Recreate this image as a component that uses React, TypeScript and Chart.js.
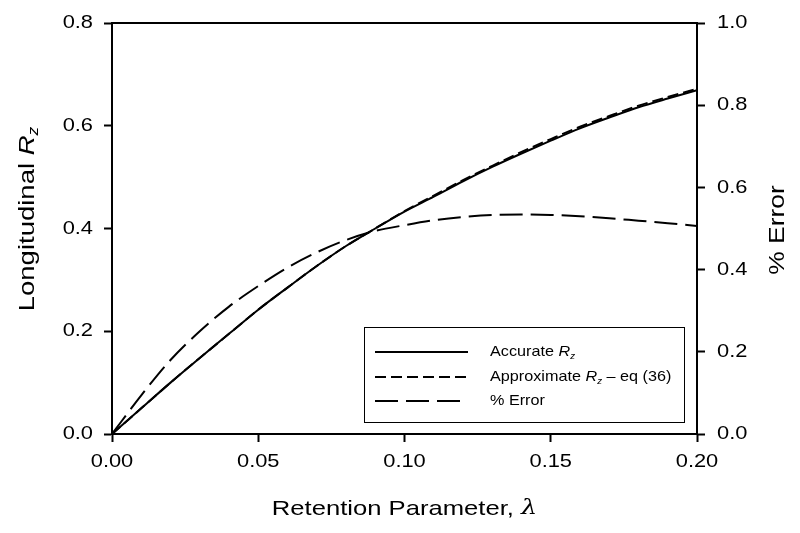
import React, { useEffect, useRef } from "react";
import { Chart, registerables } from "chart.js";

Chart.register(...registerables);

const lambdaValues = [0, 0.01, 0.02, 0.03, 0.04, 0.05, 0.06, 0.07, 0.08, 0.09, 0.1, 0.11, 0.12, 0.13, 0.14, 0.15, 0.16, 0.17, 0.18, 0.19, 0.2];
const accurateRz = [0, 0.05, 0.1, 0.148, 0.195, 0.242, 0.285, 0.327, 0.366, 0.4, 0.433, 0.462, 0.492, 0.52, 0.546, 0.571, 0.595, 0.616, 0.636, 0.653, 0.669];
const approximateRz = [0, 0.05, 0.1, 0.148, 0.195, 0.242, 0.285, 0.327, 0.366, 0.4, 0.434, 0.464, 0.494, 0.522, 0.549, 0.574, 0.598, 0.619, 0.639, 0.656, 0.672];
const percentError = [0, 0.094, 0.18, 0.25, 0.31, 0.36, 0.405, 0.442, 0.472, 0.494, 0.508, 0.52, 0.528, 0.533, 0.534, 0.533, 0.53, 0.525, 0.519, 0.513, 0.506];

const xTicks = [0, 0.05, 0.1, 0.15, 0.2];
const leftTicks = [0, 0.2, 0.4, 0.6, 0.8];
const rightTicks = [0, 0.2, 0.4, 0.6, 0.8, 1.0];

type Part = { t: string; italic?: boolean; sub?: boolean; serif?: boolean };

const legendLabels: Part[][] = [
  [{ t: "Accurate " }, { t: "R", italic: true }, { t: "z", italic: true, sub: true }],
  [{ t: "Approximate " }, { t: "R", italic: true }, { t: "z", italic: true, sub: true }, { t: " \u2013 eq (36)" }],
  [{ t: "% Error" }],
];
const xTitle: Part[] = [{ t: "Retention Parameter, " }, { t: "\u03bb", italic: true, serif: true }];
const yLeftTitle: Part[] = [{ t: "Longitudinal " }, { t: "R", italic: true }, { t: "z", italic: true, sub: true }];
const yRightTitle: Part[] = [{ t: "% Error" }];

const FONT = '"Liberation Sans", Arial, Helvetica, sans-serif';

function fontFor(p: Part, size: number) {
  const s = p.sub ? Math.round(size * 0.62) : size;
  const fam = p.serif ? '"DejaVu Serif", "Liberation Serif", serif' : FONT;
  return `${p.italic ? "italic " : ""}${s}px ${fam}`;
}

function richWidth(ctx: CanvasRenderingContext2D, parts: Part[], size: number) {
  let w = 0;
  for (const p of parts) {
    ctx.font = fontFor(p, size);
    w += ctx.measureText(p.t).width;
  }
  return w;
}

function drawRich(
  ctx: CanvasRenderingContext2D,
  parts: Part[],
  x: number,
  y: number,
  size: number,
  align: "left" | "center" | "right",
  stretch = 1
) {
  ctx.save();
  ctx.translate(x, y);
  ctx.scale(stretch, 1);
  const total = richWidth(ctx, parts, size);
  let cx = align === "center" ? -total / 2 : align === "right" ? -total : 0;
  ctx.textAlign = "left";
  ctx.textBaseline = "middle";
  ctx.fillStyle = "#000";
  for (const p of parts) {
    ctx.font = fontFor(p, size);
    ctx.fillText(p.t, cx, p.sub ? size * 0.3 : 0);
    cx += ctx.measureText(p.t).width;
  }
  ctx.restore();
}

const TICK_SIZE = 19;
const TICK_STRETCH = 1.15;

const decorPlugin = {
  id: "decor",
  afterDraw(chart: any) {
    const ctx: CanvasRenderingContext2D = chart.ctx;
    const a = chart.chartArea;
    const sx = chart.scales.x;
    const sy = chart.scales.y;
    const sy1 = chart.scales.y1;
    ctx.save();
    // frame
    ctx.strokeStyle = "#000";
    ctx.lineWidth = 2;
    ctx.strokeRect(a.left, a.top, a.right - a.left, a.bottom - a.top);

    // tick labels
    xTicks.forEach((v) => drawRich(ctx, [{ t: v.toFixed(2) }], sx.getPixelForValue(v), 462, TICK_SIZE, "center", TICK_STRETCH));
    leftTicks.forEach((v) => drawRich(ctx, [{ t: v.toFixed(1) }], 93, sy.getPixelForValue(v), TICK_SIZE, "right", TICK_STRETCH));
    rightTicks.forEach((v) => drawRich(ctx, [{ t: v.toFixed(1) }], 717, sy1.getPixelForValue(v), TICK_SIZE, "left", TICK_STRETCH));

    // axis titles
    drawRich(ctx, xTitle, (a.left + a.right) / 2, 509, 21, "center", 1.22);
    ctx.save();
    ctx.translate(28, 219);
    ctx.rotate(-Math.PI / 2);
    drawRich(ctx, yLeftTitle, 0, 0, 22, "center", 1.25);
    ctx.restore();
    ctx.save();
    ctx.translate(778, 230);
    ctx.rotate(-Math.PI / 2);
    drawRich(ctx, yRightTitle, 0, 0, 22, "center", 1.2);
    ctx.restore();

    // legend box
    const bx = 364, by = 327, bw = 320, bh = 95;
    ctx.fillStyle = "#fff";
    ctx.fillRect(bx, by, bw, bh);
    ctx.lineWidth = 1;
    ctx.strokeStyle = "#000";
    ctx.strokeRect(bx + 0.5, by + 0.5, bw, bh);
    const rows = [352, 377, 401];
    chart.data.datasets.forEach((ds: any, i: number) => {
      const y = rows[i];
      ctx.beginPath();
      ctx.lineWidth = 2;
      ctx.setLineDash(ds.borderDash || []);
      ctx.moveTo(375, y);
      ctx.lineTo(468, y);
      ctx.stroke();
      ctx.setLineDash([]);
      drawRich(ctx, legendLabels[i], 490, y, 15, "left", 1.08);
    });
    ctx.restore();
  },
};

export default function App() {
  const ref = useRef<HTMLCanvasElement | null>(null);
  useEffect(() => {
    if (!ref.current) return;
    const mk = (ys: number[]) => lambdaValues.map((x, i) => ({ x, y: ys[i] }));
    const hidden = { family: FONT, size: 18 };
    const chart = new Chart(ref.current, {
      type: "line",
      data: {
        datasets: [
          {
            label: "Accurate Rz",
            data: mk(accurateRz),
            borderColor: "#000",
            borderWidth: 2,
            pointRadius: 0,
            cubicInterpolationMode: "monotone",
            yAxisID: "y",
          },
          {
            label: "Approximate Rz - eq (36)",
            data: mk(approximateRz),
            borderColor: "#000",
            borderWidth: 2,
            borderDash: [11, 5],
            pointRadius: 0,
            cubicInterpolationMode: "monotone",
            yAxisID: "y",
          },
          {
            label: "% Error",
            data: mk(percentError),
            borderColor: "#000",
            borderWidth: 2,
            borderDash: [23, 8],
            pointRadius: 0,
            cubicInterpolationMode: "monotone",
            yAxisID: "y1",
          },
        ],
      },
      options: {
        animation: false,
        responsive: true,
        maintainAspectRatio: false,
        layout: { padding: { top: 23, left: 0, right: 0, bottom: 0 } },
        plugins: { legend: { display: false }, tooltip: { enabled: false } },
        scales: {
          x: {
            type: "linear",
            min: 0,
            max: 0.2,
            afterBuildTicks: (s: any) => { s.ticks = xTicks.map((v) => ({ value: v })); },
            afterFit: (s: any) => { s.height = 99; },
            ticks: { font: hidden, color: "rgba(0,0,0,0)", padding: 6, maxRotation: 0 },
            grid: { drawOnChartArea: false, tickLength: 8, tickWidth: 2, tickColor: "#000" },
            border: { color: "#000", width: 2 },
          },
          y: {
            type: "linear",
            position: "left",
            min: 0,
            max: 0.8,
            afterBuildTicks: (s: any) => { s.ticks = leftTicks.map((v) => ({ value: v })); },
            afterFit: (s: any) => { s.width = 112; },
            ticks: { font: hidden, color: "rgba(0,0,0,0)", padding: 10 },
            grid: { drawOnChartArea: false, tickLength: 8, tickWidth: 2, tickColor: "#000" },
            border: { color: "#000", width: 2 },
          },
          y1: {
            type: "linear",
            position: "right",
            min: 0,
            max: 1,
            afterBuildTicks: (s: any) => { s.ticks = rightTicks.map((v) => ({ value: v })); },
            afterFit: (s: any) => { s.width = 103; },
            ticks: { font: hidden, color: "rgba(0,0,0,0)", padding: 10 },
            grid: { drawOnChartArea: false, tickLength: 8, tickWidth: 2, tickColor: "#000" },
            border: { color: "#000", width: 2 },
          },
        },
      } as any,
      plugins: [decorPlugin],
    });
    return () => chart.destroy();
  }, []);
  return (
    <div style={{ position: "fixed", left: 0, top: 0, width: 800, height: 533, background: "#fff" }}>
      <canvas ref={ref} />
    </div>
  );
}
